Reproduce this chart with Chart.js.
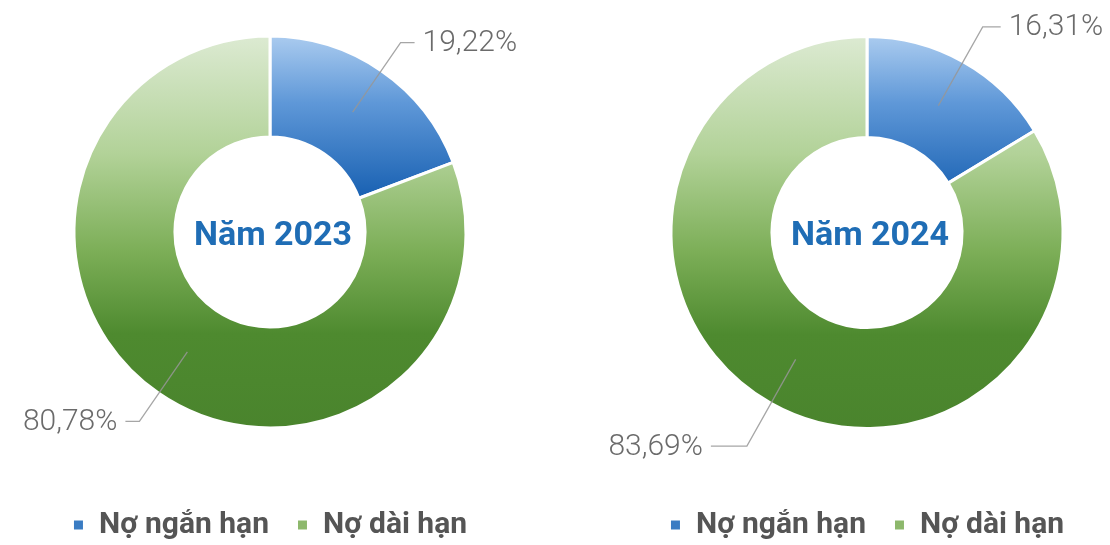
<!DOCTYPE html>
<html>
<head>
<meta charset="utf-8">
<script src="https://cdn.jsdelivr.net/npm/chart.js@4/dist/chart.umd.min.js"></script>
<style>
  html, body { margin: 0; padding: 0; background: #fff; }
  #wrap { position: relative; width: 1110px; height: 545px; overflow: hidden; }
  canvas { position: absolute; }
</style>
</head>
<body>
<div id="wrap">
  <canvas id="chart2023" width="555" height="568" style="left:0;top:-18px"></canvas>
  <canvas id="chart2024" width="555" height="567" style="left:555px;top:-17px"></canvas>
</div>
<script>
// data
const categories = ["Nợ ngắn hạn", "Nợ dài hạn"];
const years = ["Năm 2023", "Năm 2024"];
const values2023 = [19.22, 80.78];
const values2024 = [16.31, 83.69];

const legendColors = ["#3a7cc3", "#8db86c"];

// gradient fill per slice, vertical top->bottom over the ring
function sliceFill(context) {
  const chart = context.chart;
  const area = chart.chartArea;
  if (!area) return "#888";
  const ctx = chart.ctx;
  const cy = (area.top + area.bottom) / 2;
  const r = 196;
  if (context.dataIndex === 0) {
    const g = ctx.createLinearGradient(0, cy - r, 0, cy - 30);
    g.addColorStop(0, "#aacbef");
    g.addColorStop(0.4, "#5f98d8");
    g.addColorStop(1, "#155eb0");
    return g;
  }
  const g = ctx.createLinearGradient(0, cy - r, 0, cy + r);
  g.addColorStop(0, "#dcead2");
  g.addColorStop(0.3, "#b2d298");
  g.addColorStop(0.55, "#7cae57");
  g.addColorStop(0.76, "#4e8a2f");
  g.addColorStop(1, "#4a842d");
  return g;
}

// leader lines + percentage labels + centre title
const donutLabels = {
  id: "donutLabels",
  afterDatasetsDraw(chart, args, opts) {
    const ctx = chart.ctx;
    const meta = chart.getDatasetMeta(0);
    const values = chart.data.datasets[0].data;
    ctx.save();
    meta.data.forEach((arc, i) => {
      const mid = (arc.startAngle + arc.endAngle) / 2;
      const rIn = (arc.innerRadius + arc.outerRadius) / 2;
      const rEl = opts.elbow[i];
      const x0 = arc.x + Math.cos(mid) * rIn;
      const y0 = arc.y + Math.sin(mid) * rIn;
      const x1 = arc.x + Math.cos(mid) * rEl;
      const y1 = arc.y + Math.sin(mid) * rEl;
      const right = Math.cos(mid) >= 0;
      const x2 = x1 + (right ? opts.arm[i] : -opts.arm[i]);
      ctx.strokeStyle = "rgba(150,150,150,0.85)";
      ctx.lineWidth = 1.3;
      ctx.beginPath();
      ctx.moveTo(x0, y0);
      ctx.lineTo(x1, y1);
      ctx.lineTo(x2, y1);
      ctx.stroke();
      ctx.fillStyle = "#6b6b6b";
      ctx.font = "300 30px Roboto, 'Noto Sans', sans-serif";
      ctx.textBaseline = "middle";
      ctx.textAlign = right ? "left" : "right";
      const txt = values[i].toFixed(2).replace(".", ",") + "%";
      ctx.fillText(txt, x2 + (right ? 8 : -8), y1 + 1);
    });
    const a = meta.data[0];
    ctx.fillStyle = "#1f6db5";
    ctx.font = "bold 34px Roboto, 'Noto Sans', sans-serif";
    ctx.textAlign = "center";
    ctx.textBaseline = "middle";
    ctx.fillText(opts.title, a.x + 3, a.y + 4);
    ctx.restore();
  }
};

function makeChart(id, values, title, padding, elbow, arm) {
  return new Chart(document.getElementById(id), {
    type: "doughnut",
    data: {
      labels: categories,
      datasets: [{
        data: values,
        backgroundColor: sliceFill,
        borderColor: "#ffffff",
        borderWidth: 3
      }]
    },
    options: {
      responsive: false,
      animation: false,
      radius: 196,
      cutout: "48.5%",
      layout: { padding: padding },
      plugins: {
        tooltip: { enabled: false },
        legend: {
          position: "bottom",
          labels: {
            usePointStyle: true,
            pointStyle: "rect",
            boxWidth: 11,
            boxHeight: 9,
            padding: 28,
            color: "#555555",
            font: { family: "Roboto, 'Noto Sans', sans-serif", size: 30, weight: "bold" },
            generateLabels(chart) {
              return chart.data.labels.map((label, i) => ({
                text: label,
                fillStyle: legendColors[i],
                strokeStyle: legendColors[i],
                lineWidth: 0,
                pointStyle: "rect",
                fontColor: "#555555",
                hidden: false,
                index: i
              }));
            }
          }
        },
        donutLabels: { title: title, elbow: elbow, arm: arm }
      }
    },
    plugins: [donutLabels]
  });
}

makeChart("chart2023", values2023, years[0], { top: 0, bottom: 0, left: 0, right: 15 }, [230, 230], [14, 14]);
makeChart("chart2024", values2024, years[1], { top: 0, bottom: 0, left: 69, right: 0 }, [236, 245], [18, 36]);
</script>
</body>
</html>
